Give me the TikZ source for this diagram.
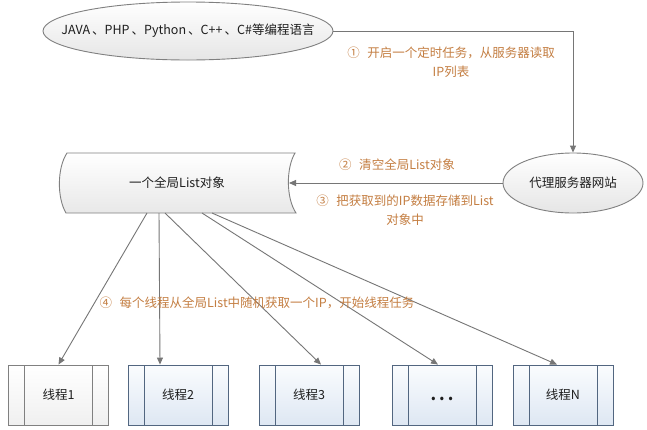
\documentclass[tikz,border=0pt]{standalone}
\usepackage{fontspec}
\setmainfont{Noto Sans CJK SC}
\usetikzlibrary{arrows.meta,shapes.geometric}
\definecolor{lbl}{RGB}{196,126,66}
\definecolor{ln}{RGB}{118,118,118}
\definecolor{gbord}{RGB}{128,128,128}
\definecolor{bbord}{RGB}{82,102,128}
\definecolor{btop}{RGB}{250,252,254}
\definecolor{bbot}{RGB}{222,231,243}
\definecolor{txt}{RGB}{30,30,30}
\tikzset{
  arr/.style={draw=ln, line width=0.9pt, -{Triangle[length=7pt,width=6pt]}},
  ell/.style={ellipse, draw=gbord, line width=0.9pt, top color=white, bottom color=gray!20, inner sep=0pt},
  lbl/.style={text=lbl, inner sep=0pt},
  dark/.style={text=txt, inner sep=0pt},
  boxbase/.style={minimum width=100pt, minimum height=60pt, inner sep=0pt, line width=0.9pt, text=txt},
  greybox/.style={boxbase, draw=gbord, top color=white, bottom color=gray!12,
    path picture={\draw[gbord, line width=0.9pt]
      ([xshift=16pt]path picture bounding box.north west) -- ([xshift=16pt]path picture bounding box.south west)
      ([xshift=-16pt]path picture bounding box.north east) -- ([xshift=-16pt]path picture bounding box.south east);}},
  bluebox/.style={boxbase, draw=bbord, top color=btop, bottom color=bbot,
    path picture={\draw[bbord, line width=0.9pt]
      ([xshift=16pt]path picture bounding box.north west) -- ([xshift=16pt]path picture bounding box.south west)
      ([xshift=-16pt]path picture bounding box.north east) -- ([xshift=-16pt]path picture bounding box.south east);}},
}
\begin{document}
\begin{tikzpicture}[x=1pt, y=-1pt, font=\fontsize{12.5}{19}\selectfont]
\fill[white] (0,0) rectangle (647,429);
\useasboundingbox (0,0) rectangle (647,429);

% top ellipse
\node[ell, minimum width=290pt, minimum height=58pt] (lang) at (188,31) {};
\node[dark] (langtxt) at (lang.center) {JAVA\,、PHP\,、Python\,、C++\,、C\#等编程语言};

% proxy ellipse
\node[ell, minimum width=140pt, minimum height=60pt] (proxy) at (573,183) {};
\node[dark] (proxytxt) at (proxy.center) {代理服务器网站};

% list (stored data shape)
\path[draw=gbord, line width=0.9pt, top color=white, bottom color=gray!18]
  (67,153) -- (295,153) .. controls (286,168) and (286,198) .. (296,213)
  -- (66,213) .. controls (57,198) and (57,168) .. (67,153) -- cycle;
\node[dark] (list) at (177,183) {一个全局List对象};
\coordinate (listR) at (289,183);

% thread boxes
\node[greybox] (t1) at (58.5,395) {线程1};
\node[bluebox] (t2) at (178,395) {线程2};
\node[bluebox] (t3) at (309,395) {线程3};
\node[bluebox] (t4) at (442,395) {};
\node[text=txt, inner sep=0pt] (t4dots) at (442,399) {\fontsize{16}{16}\selectfont\bfseries .\hspace{3pt}.\hspace{3pt}.};
\node[bluebox] (t5) at (563,395) {线程N};

% connectors
\draw[arr] (lang.east) -| (proxy.north);
\draw[arr] (proxy.west) -- (listR);

\coordinate (s1) at (147,213);
\coordinate (s2) at (159,213);
\coordinate (s3) at (165,213);
\coordinate (s4) at (202,213);
\coordinate (s5) at (212,213);
\draw[arr] (s1) -- (t1.north);
\draw[arr] (s2) -- ([xshift=-18pt]t2.north);
\draw[arr] (s3) -- ([xshift=12pt]t3.north);
\draw[arr] (s4) -- ([xshift=-4pt]t4.north);
\draw[arr] (s5) -- ([xshift=-6pt]t5.north);

% labels
\node[lbl, align=center] (l1) at (451,62) {①\hspace{0.6em}开启一个定时任务，从服务器读取\\IP列表};
\node[lbl] (l2) at (397,165) {②\hspace{0.6em}清空全局List对象};
\node[lbl, align=center] (l3) at (405,210) {③\hspace{0.6em}把获取到的IP数据存储到List\\对象中};
\node[lbl] (l4) at (257,303) {④\hspace{0.6em}每个线程从全局List中随机获取一个IP，开始线程任务};
\end{tikzpicture}
\end{document}
